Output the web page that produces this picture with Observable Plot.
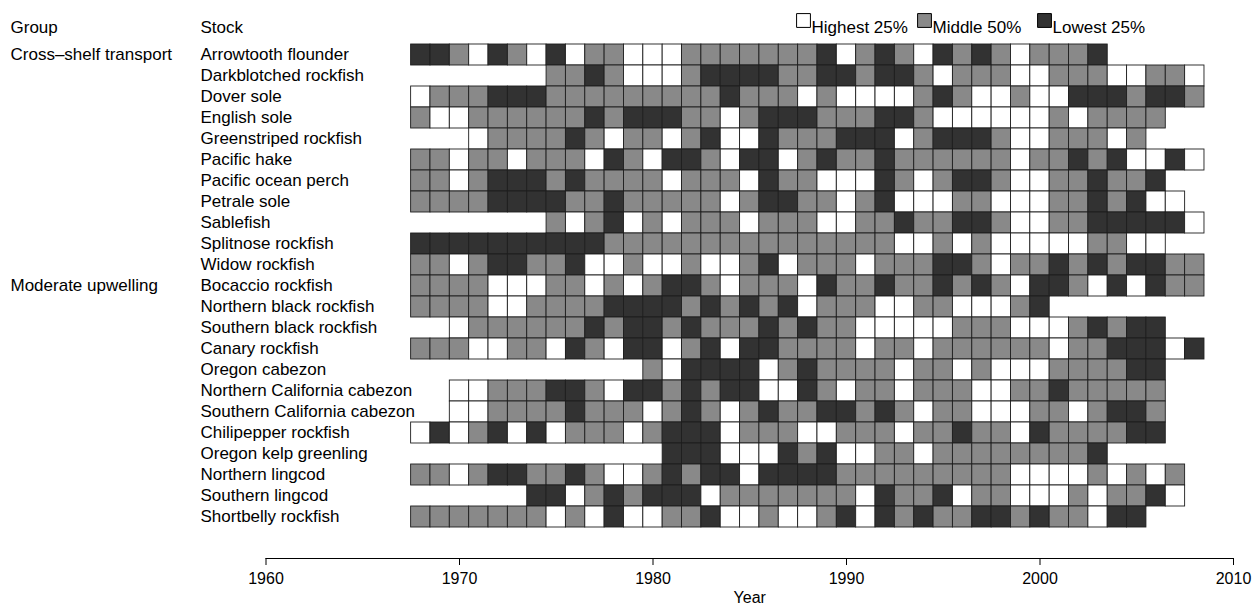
<!DOCTYPE html>
<html><head><meta charset="utf-8">
<script src="https://cdn.jsdelivr.net/npm/d3@7"></script>
<script src="https://cdn.jsdelivr.net/npm/@observablehq/plot@0.6"></script>
<style>body{margin:0;background:#fff;font-family:"Liberation Sans",Arial,sans-serif}</style>
</head><body><div id="chart"></div>
<script>
const stocks = ["Arrowtooth flounder","Darkblotched rockfish","Dover sole","English sole","Greenstriped rockfish","Pacific hake","Pacific ocean perch","Petrale sole","Sablefish","Splitnose rockfish","Widow rockfish","Bocaccio rockfish","Northern black rockfish","Southern black rockfish","Canary rockfish","Oregon cabezon","Northern California cabezon","Southern California cabezon","Chilipepper rockfish","Oregon kelp greenling","Northern lingcod","Southern lingcod","Shortbelly rockfish"];
const groupNames = ["Cross\u2013shelf transport","Moderate upwelling"];
const groupFirstStock = ["Arrowtooth flounder","Bocaccio rockfish"];
const startYears = [1968,1975,1968,1968,1971,1968,1968,1968,1975,1968,1968,1968,1968,1970,1968,1980,1970,1970,1968,1981,1968,1974,1968];
// H = Highest 25%, M = Middle 50%, L = Lowest 25%; one letter per year from the start year
const codes = [
 "LLMHLMHLHM"+"MHHHMMMMMM"+"MLHMLMHLML"+"MHMMML",
 "MML"+"MHHHMLLLLM"+"MLLMLLMHMM"+"MHHMMMHHMMH",
 "HMMMLLLMMM"+"MMMMMMLMMM"+"HMHHHHMLMH"+"HMHHLLLMLLM",
 "MHHMMMMMML"+"MLLLMMHMLL"+"LMMMLLMHHH"+"HHHMHMMMM",
 "HMMMMLM"+"HMMHMLHHLM"+"MMLLLHMLLL"+"MHHMMMHM",
 "MMHMMHMMMH"+"LMHLLMHLLH"+"MLMMLMMMMM"+"MHMMLMLHHLH",
 "MMHMLLLMLM"+"MMMHMMMHLM"+"MHHHLMHMLL"+"MHHMMLMML",
 "MMMMLLLLMM"+"LMMMMMHMLL"+"MMHMLHHHMM"+"HHHMMLMLHH",
 "MHM"+"LHMHMMMHMM"+"MHHMMLMMLL"+"MHHMMLLLLLH",
 "LLLLLLLLLL"+"MMMMMMMMMM"+"MMMMMHHMHM"+"HHHHHMMHH",
 "MMHMLLMMLH"+"HMHHMHHMLH"+"MMMHMMMLLM"+"HMMLMLMLLMM",
 "MMMMHHHMMH"+"MHMLLMHMMM"+"HLMMLMMLML"+"MHLLMHLHLMM",
 "MMMMHHMMMM"+"LLLLMLMLML"+"HMMMHHMMHH"+"HML",
 "HMMMMMML"+"MLLMLMMMLM"+"LMMHHHHHMM"+"MHHHMLMLL",
 "MMMHHMMHLM"+"HLLHMLHLLM"+"MMMHMMHMMM"+"MMMHMMLLLHL",
 "MHLLLLHM"+"LMMMMHMMHM"+"HHHMMMMLL",
 "HHMMMLLM"+"HLLMLMLLHH"+"LMHMMHMMMH"+"HMMLMMMMM",
 "HHMMMMLM"+"MMHMLMHMLM"+"MLLMLMHMMH"+"HHMMHMLLM",
 "HLHMLHLHMM"+"MHMLLLHMMM"+"HHMMMHMMLM"+"MHLMMMMLL",
 "LLLHHHL"+"MLHHMMHMMM"+"MMMMML",
 "MMHMLLMMLM"+"HHMLMLLHLL"+"LLMMMMMMMM"+"MHHHHMHMHM",
 "LLHM"+"LMLLLHMMMM"+"MMMHLMMLHM"+"MHHHMHMMLH",
 "MMMMMMMHMH"+"LHHMMLHHMH"+"HMLHLMLMML"+"LMLMMHLL"
];
const categories = ["Highest 25%","Middle 50%","Lowest 25%"];
const codeLetters = ["H","M","L"];
const colors = ["#ffffff","#898989","#323232"];
const tickYears = [1960,1970,1980,1990,2000,2010];

const cells = [];
stocks.forEach((s, i) => {
  [...codes[i]].forEach((c, j) => {
    cells.push({stock: s, year: startYears[i] + j, category: categories[codeLetters.indexOf(c)]});
  });
});

const ML = 265.5;
const FS = 17;
const font = "Liberation Sans, Arial, Helvetica, sans-serif";
const legendX = [796, 917, 1037];
const legendMarks = [];
categories.forEach((c, i) => {
  legendMarks.push(Plot.dot([c], {frameAnchor: "top-left", dx: legendX[i] + 7 - ML, dy: 20 - 34, symbol: "square", r: 7.8, fill: colors[i], stroke: "#000", strokeWidth: 1}));
  legendMarks.push(Plot.text([c], {frameAnchor: "top-left", dx: legendX[i] + 15 - ML, dy: 20 - 34, text: d => d, textAnchor: "start", fontSize: FS}));
});

const chart = Plot.plot({
  width: 1253, height: 608,
  marginLeft: ML, marginRight: 20, marginTop: 34, marginBottom: 50,
  style: {fontFamily: font, fontSize: "16px", color: "#000", background: "#fff"},
  x: {domain: [1960, 2010], axis: null},
  y: {type: "band", domain: stocks, range: [33.7, 537.7], padding: 0, axis: null},
  color: {domain: categories, range: colors},
  marks: [
    Plot.barX(cells, {x1: d => d.year - 0.5, x2: d => d.year + 0.5, y: "stock", fill: "category", stroke: "#1e1e1e", strokeWidth: 0.9}),
    Plot.frame({anchor: "bottom", stroke: "#000"}),
    Plot.axisX({ticks: tickYears, tickFormat: d => String(d), tickSize: 7, tickPadding: 7, fontSize: 16, label: "Year", labelAnchor: "center", labelArrow: "none", labelOffset: 44}),
    Plot.text(stocks, {y: d => d, text: d => d, frameAnchor: "left", textAnchor: "start", dx: 200 - ML, fontSize: FS}),
    Plot.text(groupNames, {y: (d, i) => groupFirstStock[i], text: d => d, frameAnchor: "left", textAnchor: "start", dx: 10 - ML, fontSize: FS}),
    Plot.text(["Group"], {frameAnchor: "top-left", dx: 10 - ML, dy: 20 - 34, text: d => d, textAnchor: "start", fontSize: FS}),
    Plot.text(["Stock"], {frameAnchor: "top-left", dx: 200 - ML, dy: 20 - 34, text: d => d, textAnchor: "start", fontSize: FS}),
    ...legendMarks
  ]
});
document.getElementById("chart").appendChild(chart);
</script>
</body></html>
